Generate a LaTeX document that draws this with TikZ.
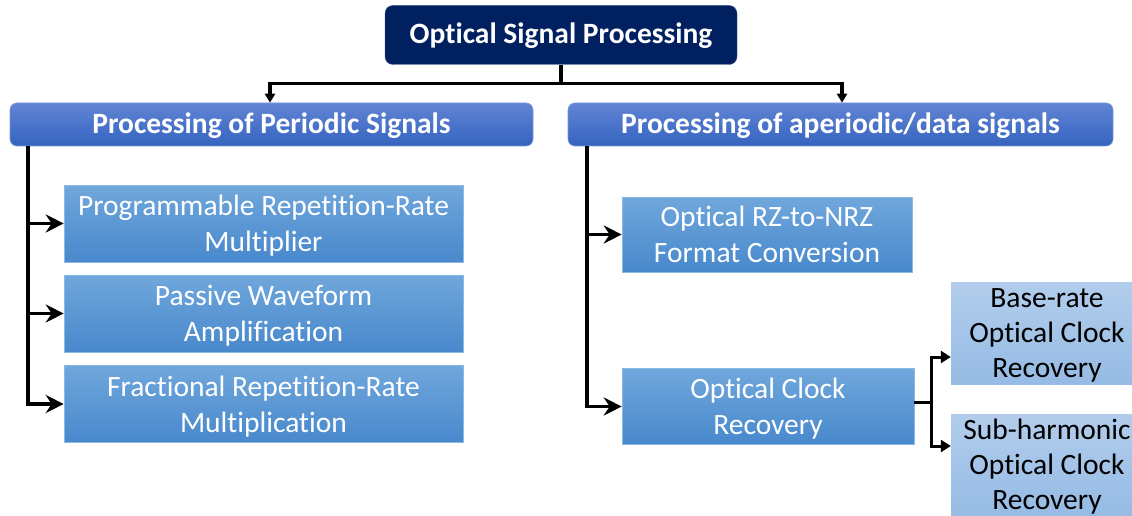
\documentclass[tikz,border=0pt]{standalone}
\usepackage{fontspec}
\setmainfont{Carlito}[Ligatures=NoCommon]
\usetikzlibrary{arrows.meta}
\definecolor{navy}{RGB}{0,32,96}
\definecolor{hdtop}{RGB}{98,132,212}
\definecolor{hdbot}{RGB}{52,100,192}
\definecolor{hdline}{RGB}{120,150,215}
\definecolor{ittop}{RGB}{112,167,220}
\definecolor{itmid}{RGB}{84,152,222}
\definecolor{itbot}{RGB}{72,136,204}
\definecolor{itline}{RGB}{140,185,230}
\definecolor{sbtop}{RGB}{178,205,236}
\definecolor{sbbot}{RGB}{150,187,228}
\tikzset{
  titlebox/.style={rectangle, rounded corners=8pt, fill=navy, draw=navy!80!white,
    text=white, font=\bfseries\fontsize{29.5}{33}\selectfont,
    text height=16.6pt, text depth=0pt,
    minimum width=352pt, minimum height=59pt, inner sep=0pt},
  headbox/.style={rectangle, rounded corners=7pt, top color=hdtop, bottom color=hdbot,
    draw=hdline, line width=0.6pt, text=white, font=\bfseries\fontsize{29.5}{33}\selectfont,
    text height=17.6pt, text depth=0pt,
    minimum height=43pt, inner sep=0pt},
  itembox/.style={rectangle, top color=ittop, middle color=itmid, bottom color=itbot,
    draw=itline, line width=0.6pt, text=white, font=\fontsize{29.5}{36}\selectfont,
    text height=56pt, text depth=0pt,
    align=center, minimum width=399pt, minimum height=77pt, inner sep=0pt},
  subbox/.style={rectangle, top color=sbtop, bottom color=sbbot,
    text=black, font=\fontsize{29.5}{35}\selectfont,
    text height=88pt, text depth=0pt,
    align=center, minimum width=192pt, minimum height=102pt, inner sep=0pt},
  wire/.style={draw=black, line width=3.6pt},
  stem/.style={draw=black, line width=3.2pt},
  downarrow/.style={stem, -{Triangle[length=9pt,width=10pt]}},
  sidearrow/.style={wire, -{Stealth[length=18pt,width=18pt,inset=6pt]}},
  smallarrow/.style={draw=black, line width=3pt, -{Triangle[length=10pt,width=12pt]}},
}
\begin{document}
\begin{tikzpicture}[x=1pt,y=-1pt]
\useasboundingbox (0,0) rectangle (1132,516);

% top level
\node[titlebox] (osp) at (561,35) {Optical Signal Processing};

% two branches
\node[headbox, minimum width=523pt] (per) at (271.5,124.5) {Processing of Periodic Signals};
\node[headbox, minimum width=545pt] (aper) at (840.5,124.5) {Processing of aperiodic/data signals};

% periodic signal applications
\node[itembox] (prr) at (263.5,223.5) {Programmable Repetition-Rate\\Multiplier};
\node[itembox] (pwa) at (263.5,313.5) {Passive Waveform\\Amplification};
\node[itembox] (frr) at (263.5,404) {Fractional Repetition-Rate\\Multiplication};

% data signal applications
\node[itembox, minimum width=290pt, minimum height=75pt] (rz) at (767,234.5) {Optical RZ-to-NRZ\\Format Conversion};
\node[itembox, minimum width=292pt, minimum height=76pt] (ocr) at (768,406.5) {Optical Clock\\Recovery};

% clock recovery variants
\node[subbox] (base) at (1047,333) {Base-rate\\Optical Clock\\Recovery};
\node[subbox] (subh) at (1047,465) {Sub-harmonic\\Optical Clock\\Recovery};

% connectors from the top
\coordinate (split) at ([yshift=-19pt]osp.south);
\draw[stem] (osp.south) -- (split);
\draw[downarrow] (split) -| ([xshift=-1.5pt]per.north);
\draw[downarrow] (split) -| ([xshift=1.5pt]aper.north);

% periodic branch
\coordinate (lbus) at ([xshift=18pt]per.south west);
\draw[sidearrow] (lbus) |- (frr.west);
\draw[sidearrow] (lbus |- prr.west) -- (prr.west);
\draw[sidearrow] (lbus |- pwa.west) -- (pwa.west);

% aperiodic branch
\coordinate (rbus) at ([xshift=19pt]aper.south west);
\draw[sidearrow] (rbus) |- (ocr.west);
\draw[sidearrow] (rbus |- rz.west) -- (rz.west);

% clock recovery split
\coordinate (cj) at ([xshift=17pt,yshift=4pt]ocr.east);
\draw[wire] ([yshift=4pt]ocr.east) -- (cj);
\draw[smallarrow] (cj) |- ([yshift=-24pt]base.west);
\draw[smallarrow] (cj) |- ([yshift=19pt]subh.west);
\end{tikzpicture}
\end{document}
